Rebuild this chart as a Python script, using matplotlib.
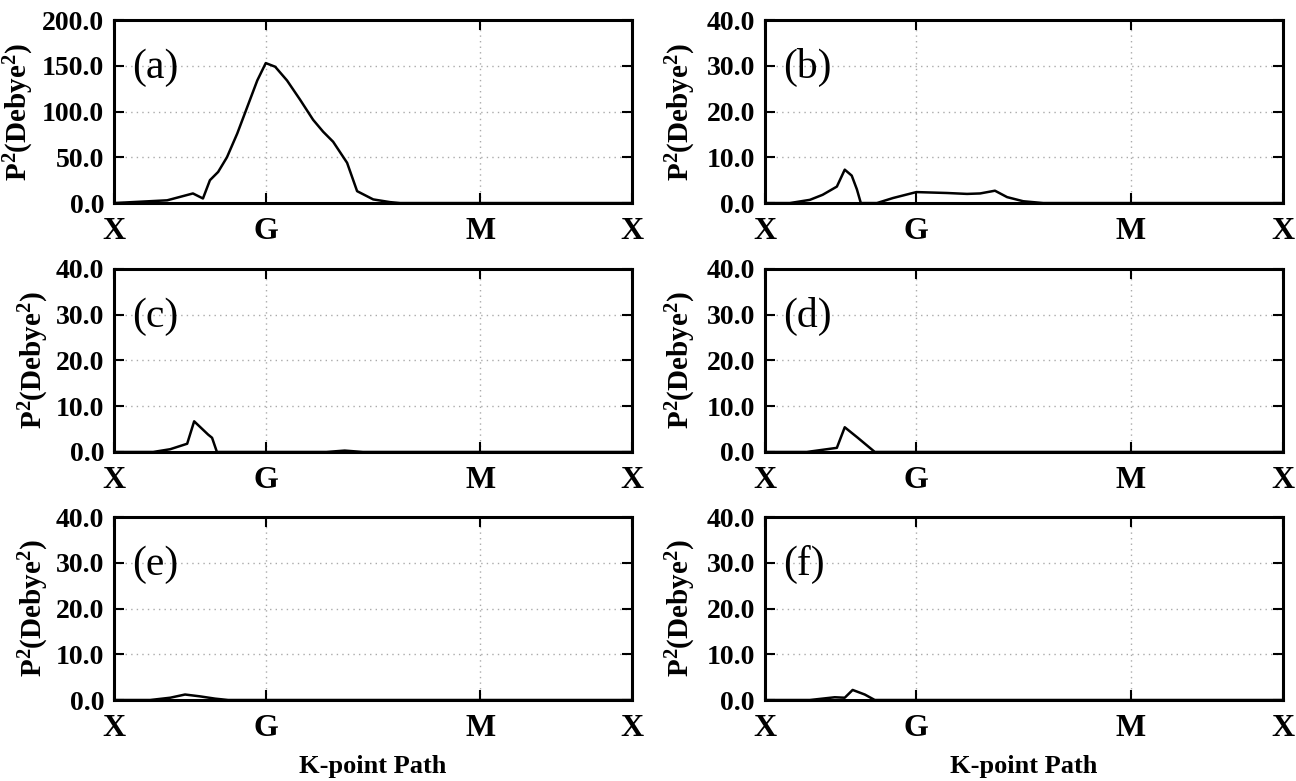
import matplotlib.pyplot as plt
import numpy as np

# Hoeye-symmetri punkter langs k-banen: X -> G -> M -> X
k_ticks = [0.0, 0.5, 1.2071, 1.7071]
k_labels = ['X', 'G', 'M', 'X']

# Panel (a)
k_a = [0.0, 0.175, 0.260, 0.293, 0.316, 0.343, 0.372, 0.406, 0.439, 0.472, 0.5,
       0.531, 0.570, 0.613, 0.656, 0.689, 0.722, 0.768, 0.801, 0.854, 0.910, 0.943, 1.7071]
p_a = [0.0, 3.0, 10.5, 5.0, 25.0, 34.0, 50.0, 76.0, 105.0, 134.0, 153.0,
       149.0, 134.0, 113.0, 91.0, 78.0, 67.0, 44.0, 13.0, 4.0, 1.0, 0.0, 0.0]

# Panel (b)
k_b = [0.0, 0.083, 0.149, 0.191, 0.238, 0.264, 0.287, 0.304, 0.317, 0.370, 0.423,
       0.5, 0.601, 0.667, 0.710, 0.759, 0.799, 0.852, 0.918, 1.7071]
p_b = [0.0, 0.0, 0.7, 1.8, 3.6, 7.3, 6.0, 3.0, 0.0, 0.0, 1.1,
       2.4, 2.2, 2.0, 2.1, 2.7, 1.3, 0.4, 0.0, 0.0]

# Panel (c)
k_c = [0.0, 0.129, 0.185, 0.241, 0.264, 0.310, 0.323, 0.339, 0.700, 0.760, 0.820, 1.7071]
p_c = [0.0, 0.0, 0.6, 1.8, 6.7, 3.8, 3.1, 0.0, 0.0, 0.3, 0.0, 0.0]

# Panel (d)
k_d = [0.0, 0.139, 0.238, 0.264, 0.307, 0.363, 1.7071]
p_d = [0.0, 0.0, 0.9, 5.4, 3.1, 0.0, 0.0]

# Panel (e)
k_e = [0.0, 0.119, 0.185, 0.234, 0.283, 0.333, 0.376, 1.7071]
p_e = [0.0, 0.0, 0.5, 1.2, 0.8, 0.3, 0.0, 0.0]

# Panel (f)
k_f = [0.0, 0.149, 0.231, 0.264, 0.290, 0.330, 0.363, 1.7071]
p_f = [0.0, 0.0, 0.6, 0.5, 2.2, 1.2, 0.0, 0.0]

panels = ['(a)', '(b)', '(c)', '(d)', '(e)', '(f)']
ks = [k_a, k_b, k_c, k_d, k_e, k_f]
ps = [p_a, p_b, p_c, p_d, p_e, p_f]
ymaxes = [200, 40, 40, 40, 40, 40]

plt.rcParams['font.family'] = 'Liberation Serif'
plt.rcParams['mathtext.fontset'] = 'custom'
plt.rcParams['mathtext.rm'] = 'Liberation Serif:bold'
plt.rcParams['mathtext.it'] = 'Liberation Serif:bold'
plt.rcParams['mathtext.bf'] = 'Liberation Serif:bold'

fig = plt.figure(figsize=(12.96, 7.81), dpi=100)

# Plassering av aksene (venstre, bunn) i figurbrøk
lefts = [0.088, 0.590]
bottoms = [0.740, 0.4213, 0.1037]
w, h = 0.3997, 0.2343
# ylabel-posisjon (hoeyre kant av teksten) i aksekoordinater
ylab_x = [-0.15, -0.128, -0.121, -0.128, -0.121, -0.128]

for i in range(6):
    row, col = i // 2, i % 2
    ax = fig.add_axes([lefts[col], bottoms[row], w, h])
    ax.plot(ks[i], ps[i], color='black', linewidth=1.8)
    ax.set_xlim(0, k_ticks[-1])
    ax.set_ylim(0, ymaxes[i])
    ax.set_xticks(k_ticks)
    ax.set_xticklabels(k_labels, fontsize=23, fontweight='bold')
    yt = np.linspace(0, ymaxes[i], 5)
    ax.set_yticks(yt)
    ax.set_yticklabels(['%.1f' % v for v in yt], fontsize=20, fontweight='bold')
    ax.tick_params(direction='in', length=7, width=1.5, top=True, right=True)
    ax.tick_params(axis='y', pad=7)
    ax.tick_params(axis='x', pad=10)
    ax.grid(True, color='#aaaaaa', linestyle=(0, (1, 3)), linewidth=1.0)
    for s in ax.spines.values():
        s.set_linewidth(2.2)
    ax.set_ylabel('P$^2$(Debye$^2$)', fontsize=21, fontweight='bold')
    ax.yaxis.set_label_coords(ylab_x[i], 0.5)
    ax.text(0.035, 0.74, panels[i], transform=ax.transAxes, fontsize=30,
            va='center', ha='left')
    if row == 2:
        ax.set_xlabel('K-point Path', fontsize=19, fontweight='bold', labelpad=9)

plt.savefig('out.png', dpi=100)
